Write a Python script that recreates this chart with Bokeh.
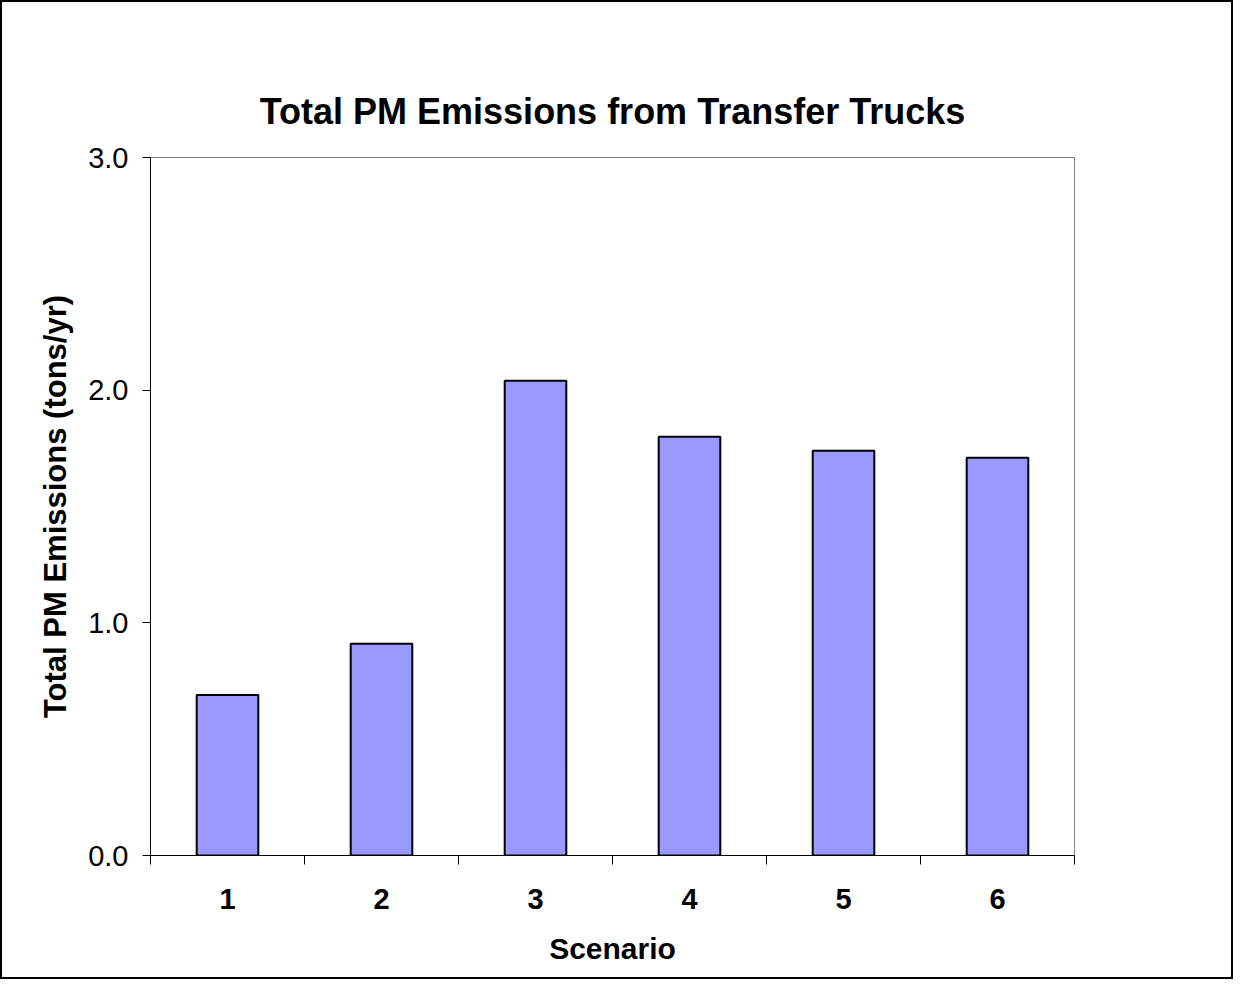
from bokeh.plotting import figure
from bokeh.models import FixedTicker, Range1d, NumeralTickFormatter
from bokeh.embed import file_html
from bokeh.resources import INLINE

scenarios = [1, 2, 3, 4, 5, 6]
emissions = [0.69, 0.91, 2.04, 1.80, 1.74, 1.71]
y_ticks = [0.0, 1.0, 2.0, 3.0]
title_text = "Total PM Emissions from Transfer Trucks"
x_label = "Scenario"
y_label = "Total PM Emissions (tons/yr)"

FONT = "Liberation Sans"

p = figure(width=1233, height=979, output_backend="svg", toolbar_location=None,
           x_range=Range1d(0.5, 6.5), y_range=Range1d(0, 3),
           min_border_left=148, min_border_top=155, min_border_right=161, min_border_bottom=126)
p.styles = {"border": "2px solid black"}

p.vbar(x=scenarios, top=emissions, width=0.4, bottom=0,
       fill_color="#9999FF", line_color="black", line_width=2)

p.title.text = title_text
p.title.align = "center"
p.title.text_font = FONT
p.title.text_font_size = "36px"
p.title.text_font_style = "bold"
p.title.text_color = "black"
p.title.standoff = 52

p.grid.visible = False
p.outline_line_color = "#808080"
p.outline_line_width = 1
p.background_fill_color = "white"
p.border_fill_color = "white"

xa = p.xaxis[0]
xa.ticker = FixedTicker(ticks=scenarios, minor_ticks=[s - 0.5 for s in scenarios] + [scenarios[-1] + 0.5])
xa.major_tick_out = 0
xa.major_tick_in = 0
xa.minor_tick_out = 9
xa.minor_tick_in = 0
xa.minor_tick_line_color = "black"
xa.axis_line_color = "black"
xa.major_label_text_font = FONT
xa.major_label_text_font_size = "29px"
xa.major_label_text_font_style = "bold"
xa.major_label_text_color = "black"
xa.major_label_standoff = 24
xa.axis_label = x_label
xa.axis_label_text_font = FONT
xa.axis_label_text_font_size = "30px"
xa.axis_label_text_font_style = "bold"
xa.axis_label_text_color = "black"
xa.axis_label_standoff = 20

ya = p.yaxis[0]
ya.ticker = FixedTicker(ticks=y_ticks, minor_ticks=[])
ya.formatter = NumeralTickFormatter(format="0.0")
ya.major_tick_out = 8
ya.major_tick_in = 0
ya.major_tick_line_color = "black"
ya.axis_line_color = "black"
ya.major_label_text_font = FONT
ya.major_label_text_font_size = "29px"
ya.major_label_text_color = "black"
ya.major_label_standoff = 14
ya.axis_label = y_label
ya.axis_label_text_font = FONT
ya.axis_label_text_font_size = "31px"
ya.axis_label_text_font_style = "bold"
ya.axis_label_text_color = "black"
ya.axis_label_standoff = 12

open("out.html", "w").write(file_html(p, INLINE))
